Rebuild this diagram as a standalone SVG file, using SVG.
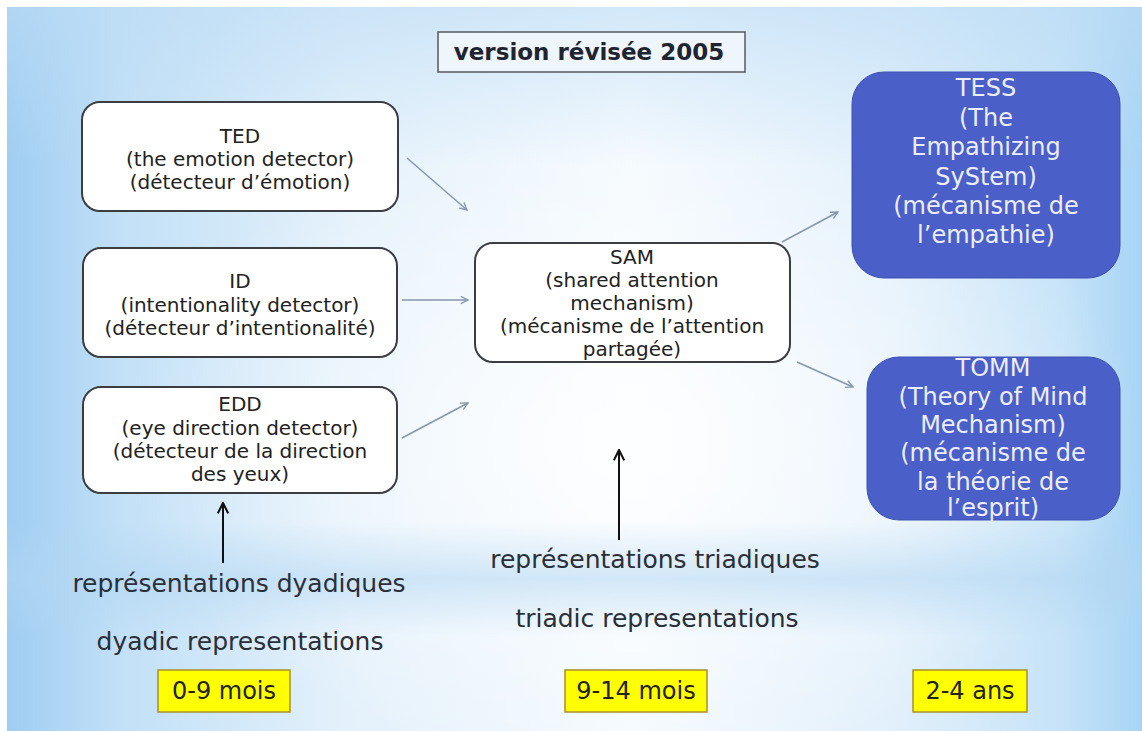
<svg xmlns="http://www.w3.org/2000/svg" width="1142" height="731" viewBox="0 0 1142 731">
<defs>
<linearGradient id="bgH" x1="0" y1="0" x2="1" y2="0">
<stop offset="0" stop-color="#9fcdf2"/>
<stop offset="0.1" stop-color="#c2e0f7"/>
<stop offset="0.3" stop-color="#e4f1fb"/>
<stop offset="0.55" stop-color="#f5fafe"/>
<stop offset="0.78" stop-color="#e2f0fb"/>
<stop offset="0.93" stop-color="#c6e3f8"/>
<stop offset="1" stop-color="#a8d4f5"/>
</linearGradient>
<radialGradient id="glow" cx="0.55" cy="0.6" r="0.45">
<stop offset="0" stop-color="#ffffff" stop-opacity="0.85"/>
<stop offset="1" stop-color="#ffffff" stop-opacity="0"/>
</radialGradient>
<linearGradient id="bandV" x1="0" y1="0" x2="0" y2="1">
<stop offset="0" stop-color="#bcdcf5" stop-opacity="0.6"/>
<stop offset="0.22" stop-color="#bcdcf5" stop-opacity="0"/>
<stop offset="0.71" stop-color="#b2d6f2" stop-opacity="0"/>
<stop offset="0.79" stop-color="#b2d6f2" stop-opacity="0.55"/>
<stop offset="0.87" stop-color="#b2d6f2" stop-opacity="0"/>
<stop offset="1" stop-color="#b2d6f2" stop-opacity="0"/>
</linearGradient>
<marker id="ahGray" viewBox="0 0 10 10" refX="9" refY="5" markerWidth="9" markerHeight="9" markerUnits="userSpaceOnUse" orient="auto">
<path d="M1,1 L9,5 L1,9" fill="none" stroke="#8796ab" stroke-width="1.5"/>
</marker>
<marker id="ahBlack" viewBox="0 0 10 10" refX="9" refY="5" markerWidth="13" markerHeight="13" markerUnits="userSpaceOnUse" orient="auto">
<path d="M1,1 L9,5 L1,9" fill="none" stroke="#111" stroke-width="1.6"/>
</marker>
</defs>
<style>
.wbox{fill:#ffffff;stroke:#3a3d42;stroke-width:2}
.bbox{fill:#4b5fc9;stroke:#3e50b0;stroke-width:1}
.ybox{fill:#ffff00;stroke:#a8902a;stroke-width:1.5}
.t{font-family:"DejaVu Sans",Verdana,sans-serif;text-anchor:middle}
.wt{font-size:20px;fill:#222}
.bt{font-size:24px;fill:#eceefa}
.lbl{font-size:25px;fill:#2a2f38}
.yt{font-size:24px;fill:#222}
.title{font-size:23px;font-weight:bold;fill:#1e2430}
.conn{fill:none;stroke:#8796ab;stroke-width:1.5;marker-end:url(#ahGray)}
.up{fill:none;stroke:#111;stroke-width:2;marker-end:url(#ahBlack)}
</style>
<rect x="0" y="0" width="1142" height="731" fill="#ffffff"/>
<rect x="7" y="7" width="1135" height="724" fill="url(#bgH)"/>
<rect x="7" y="7" width="1135" height="724" fill="url(#glow)"/>
<rect x="7" y="7" width="1135" height="724" fill="url(#bandV)"/>

<g id="title">
<rect x="438" y="32" width="307" height="40" fill="#eef5fb" stroke="#555a60" stroke-width="1.5"/>
<text class="t title" x="589" y="60">version révisée 2005</text>
</g>

<g id="connectors">
<line class="conn" x1="407" y1="158" x2="467" y2="210"/>
<line class="conn" x1="402" y1="300" x2="468" y2="300"/>
<line class="conn" x1="402" y1="438" x2="468" y2="403"/>
<line class="conn" x1="782" y1="242" x2="838" y2="212"/>
<line class="conn" x1="797" y1="362" x2="853" y2="387"/>
<line class="up" x1="223" y1="563" x2="223" y2="503"/>
<line class="up" x1="619" y1="540" x2="619" y2="450"/>
</g>

<g id="TED">
<rect class="wbox" x="82" y="102" width="316" height="109" rx="18"/>
<text class="t wt" x="240" y="143">TED</text>
<text class="t wt" x="240" y="166">(the emotion detector)</text>
<text class="t wt" x="240" y="189">(détecteur d’émotion)</text>
</g>

<g id="ID">
<rect class="wbox" x="83" y="248" width="314" height="109" rx="18"/>
<text class="t wt" x="240" y="288">ID</text>
<text class="t wt" x="240" y="312">(intentionality detector)</text>
<text class="t wt" x="240" y="335">(détecteur d’intentionalité)</text>
</g>

<g id="EDD">
<rect class="wbox" x="83" y="387" width="314" height="106" rx="18"/>
<text class="t wt" x="240" y="411">EDD</text>
<text class="t wt" x="240" y="435">(eye direction detector)</text>
<text class="t wt" x="240" y="458">(détecteur de la direction</text>
<text class="t wt" x="240" y="481">des yeux)</text>
</g>

<g id="SAM">
<rect class="wbox" x="475" y="243" width="315" height="119" rx="18"/>
<text class="t wt" x="632" y="264">SAM</text>
<text class="t wt" x="632" y="287">(shared attention</text>
<text class="t wt" x="632" y="310">mechanism)</text>
<text class="t wt" x="632" y="333">(mécanisme de l’attention</text>
<text class="t wt" x="632" y="356">partagée)</text>
</g>

<g id="TESS">
<rect class="bbox" x="852" y="72" width="268" height="206" rx="32"/>
<text class="t bt" x="986" y="96">TESS</text>
<text class="t bt" x="986" y="126">(The</text>
<text class="t bt" x="986" y="155">Empathizing</text>
<text class="t bt" x="986" y="185">SyStem)</text>
<text class="t bt" x="986" y="214">(mécanisme de</text>
<text class="t bt" x="986" y="243">l’empathie)</text>
</g>

<g id="TOMM">
<rect class="bbox" x="867" y="357" width="253" height="163" rx="32"/>
<text class="t bt" x="993" y="376">TOMM</text>
<text class="t bt" x="993" y="405">(Theory of Mind</text>
<text class="t bt" x="993" y="433">Mechanism)</text>
<text class="t bt" x="993" y="461">(mécanisme de</text>
<text class="t bt" x="993" y="490">la théorie de</text>
<text class="t bt" x="993" y="516">l’esprit)</text>
</g>

<g id="labels">
<text class="t lbl" x="239" y="592">représentations dyadiques</text>
<text class="t lbl" x="240" y="650">dyadic representations</text>
<text class="t lbl" x="655" y="568">représentations triadiques</text>
<text class="t lbl" x="657" y="627">triadic representations</text>
</g>

<g id="age-0-9">
<rect class="ybox" x="158" y="670" width="132" height="42"/>
<text class="t yt" x="224" y="699">0-9 mois</text>
</g>
<g id="age-9-14">
<rect class="ybox" x="565" y="670" width="142" height="42"/>
<text class="t yt" x="636" y="699">9-14 mois</text>
</g>
<g id="age-2-4">
<rect class="ybox" x="913" y="670" width="114" height="42"/>
<text class="t yt" x="970" y="699">2-4 ans</text>
</g>
</svg>
